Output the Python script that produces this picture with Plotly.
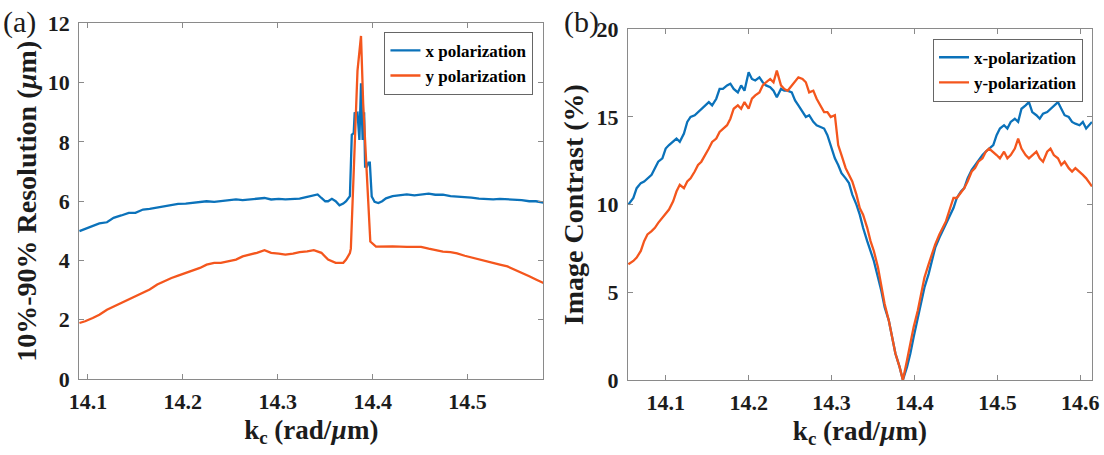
import plotly.graph_objects as go

# ---------- panel (a): 10%-90% resolution vs kc ----------
kc_a_x = [14.091, 14.097, 14.105, 14.112, 14.120, 14.127, 14.135, 14.143, 14.150, 14.158,
          14.165, 14.173, 14.180, 14.188, 14.195, 14.203, 14.210, 14.218, 14.225, 14.233,
          14.240, 14.248, 14.256, 14.263, 14.271, 14.278, 14.286, 14.293, 14.301, 14.308,
          14.316, 14.323, 14.331, 14.338, 14.342, 14.346, 14.350, 14.353, 14.357, 14.361,
          14.365, 14.369, 14.372, 14.376, 14.377, 14.378, 14.380, 14.381, 14.384, 14.386,
          14.3877, 14.3894, 14.391, 14.392, 14.394, 14.3955, 14.397, 14.399, 14.402, 14.406,
          14.410, 14.414, 14.421, 14.429, 14.436, 14.444, 14.451, 14.459, 14.466, 14.474,
          14.482, 14.489, 14.497, 14.504, 14.512, 14.519, 14.527, 14.534, 14.542, 14.550,
          14.557, 14.565, 14.572, 14.580]
res_x = [4.99, 5.07, 5.16, 5.25, 5.29, 5.44, 5.52, 5.61, 5.61, 5.72,
         5.74, 5.78, 5.83, 5.86, 5.91, 5.92, 5.95, 5.97, 6.00, 5.98,
         6.01, 6.02, 6.06, 6.04, 6.06, 6.08, 6.11, 6.06, 6.08, 6.06,
         6.08, 6.09, 6.15, 6.19, 6.23, 6.11, 6.00, 6.00, 6.08, 6.00,
         5.86, 5.92, 6.00, 6.17, 7.00, 8.24, 8.30, 8.97, 8.99, 8.07,
         9.98, 8.07, 9.00, 7.17, 7.17, 7.30, 7.30, 6.16, 5.98, 5.94,
         6.00, 6.10, 6.17, 6.20, 6.23, 6.20, 6.22, 6.26, 6.22, 6.22,
         6.17, 6.16, 6.14, 6.12, 6.09, 6.08, 6.06, 6.08, 6.07, 6.05,
         6.04, 6.00, 6.00, 5.95]

kc_a_y = [14.091, 14.097, 14.105, 14.112, 14.120, 14.127, 14.135, 14.143, 14.150, 14.158,
          14.165, 14.173, 14.180, 14.188, 14.195, 14.203, 14.210, 14.218, 14.225, 14.233,
          14.240, 14.248, 14.256, 14.263, 14.271, 14.278, 14.286, 14.293, 14.301, 14.308,
          14.316, 14.323, 14.331, 14.338, 14.346, 14.350, 14.353, 14.361, 14.369, 14.372,
          14.376, 14.377, 14.381, 14.384, 14.3877, 14.390, 14.3936, 14.3964, 14.3975, 14.4035,
          14.410, 14.421, 14.436, 14.444, 14.451, 14.459, 14.466, 14.474, 14.482, 14.489,
          14.497, 14.504, 14.512, 14.519, 14.527, 14.534, 14.542, 14.550, 14.557, 14.565,
          14.572, 14.580]
res_y = [1.89, 1.95, 2.06, 2.17, 2.34, 2.45, 2.57, 2.68, 2.79, 2.93,
         3.02, 3.19, 3.30, 3.41, 3.49, 3.58, 3.67, 3.75, 3.86, 3.92,
         3.92, 3.98, 4.03, 4.14, 4.20, 4.26, 4.35, 4.26, 4.23, 4.20,
         4.23, 4.28, 4.31, 4.35, 4.26, 4.14, 4.03, 3.92, 3.92, 4.03,
         4.25, 4.40, 8.10, 10.40, 11.58, 9.30, 7.06, 4.93, 4.64, 4.47,
         4.48, 4.48, 4.46, 4.47, 4.46, 4.40, 4.36, 4.30, 4.28, 4.24,
         4.16, 4.10, 4.03, 3.98, 3.92, 3.86, 3.80, 3.69, 3.60, 3.47,
         3.36, 3.24]

# ---------- panel (b): image contrast vs kc ----------
kc_b = [14.055, 14.061, 14.065, 14.070, 14.074, 14.078, 14.083, 14.087, 14.091, 14.096,
        14.100, 14.104, 14.109, 14.113, 14.117, 14.122, 14.126, 14.130, 14.135, 14.139,
        14.143, 14.148, 14.152, 14.156, 14.161, 14.165, 14.169, 14.174, 14.178, 14.182,
        14.187, 14.191, 14.195, 14.200, 14.204, 14.208, 14.213, 14.217, 14.221, 14.226,
        14.230, 14.234, 14.239, 14.243, 14.247, 14.252, 14.256, 14.260, 14.265, 14.269,
        14.273, 14.278, 14.282, 14.286, 14.291, 14.295, 14.299, 14.304, 14.308, 14.312,
        14.317, 14.321, 14.325, 14.330, 14.334, 14.338, 14.343, 14.347, 14.351, 14.356,
        14.360, 14.364, 14.369, 14.373, 14.377, 14.382, 14.386, 14.391, 14.395, 14.399,
        14.404, 14.408, 14.412, 14.417, 14.421, 14.425, 14.430, 14.434, 14.438, 14.443,
        14.447, 14.451, 14.456, 14.460, 14.464, 14.469, 14.473, 14.477, 14.482, 14.486,
        14.490, 14.495, 14.499, 14.503, 14.508, 14.512, 14.516, 14.521, 14.525, 14.529,
        14.534, 14.538, 14.542, 14.547, 14.551, 14.555, 14.560, 14.564, 14.568, 14.573,
        14.577, 14.581, 14.586, 14.590, 14.594, 14.599, 14.603, 14.607, 14.614]
contrast_x = [10.00, 10.38, 10.94, 11.23, 11.32, 11.50, 11.70, 12.08, 12.45, 12.64,
              13.20, 13.40, 13.58, 13.77, 13.58, 14.06, 14.72, 15.00, 15.10, 15.28,
              15.47, 15.66, 15.85, 15.66, 16.04, 16.60, 16.60, 16.80, 16.90, 16.60,
              16.40, 16.80, 16.50, 17.55, 17.17, 17.08, 17.26, 16.98, 16.80, 16.70,
              16.50, 16.13, 16.60, 16.50, 16.50, 16.40, 15.94, 15.66, 15.28, 15.00,
              15.10, 14.72, 14.53, 14.43, 14.34, 13.96, 13.40, 12.64, 12.26, 11.80,
              11.50, 11.23, 10.57, 10.00, 9.43, 8.68, 7.92, 7.36, 6.79, 5.85,
              5.09, 4.15, 3.40, 2.45, 1.51, 0.75, 0.00, 0.75, 1.51, 2.45,
              3.58, 4.53, 5.28, 6.04, 6.79, 7.55, 8.11, 8.49, 8.87, 9.43,
              9.81, 10.38, 10.75, 10.94, 11.50, 11.98, 12.26, 12.55, 12.83, 13.02,
              13.20, 13.40, 13.96, 14.34, 14.53, 14.34, 14.72, 14.90, 14.72, 15.47,
              15.66, 15.85, 15.28, 15.10, 14.90, 15.19, 15.28, 15.47, 15.66, 15.85,
              15.47, 15.10, 15.00, 14.72, 14.62, 14.53, 14.72, 14.34, 14.72]
contrast_y = [6.60, 6.79, 6.98, 7.36, 7.92, 8.30, 8.49, 8.68, 8.96, 9.25,
              9.43, 9.72, 10.19, 10.75, 11.13, 10.94, 11.32, 11.50, 11.89, 12.26,
              12.45, 12.83, 13.20, 13.58, 13.77, 14.15, 14.34, 14.53, 14.90, 15.47,
              15.66, 15.47, 15.85, 15.47, 16.04, 16.23, 16.40, 16.80, 16.98, 17.17,
              16.98, 17.64, 16.80, 16.60, 16.50, 16.80, 17.08, 17.26, 17.17, 16.98,
              16.40, 16.50, 16.04, 15.66, 15.28, 15.28, 15.00, 15.10, 13.40, 12.83,
              12.08, 11.70, 11.32, 10.57, 9.81, 9.43, 8.68, 7.92, 7.36, 6.42,
              5.47, 4.34, 3.40, 2.45, 1.51, 0.75, 0.00, 1.13, 2.08, 3.02,
              3.96, 4.90, 5.85, 6.60, 7.17, 7.74, 8.30, 8.68, 9.06, 9.81,
              10.38, 10.38, 10.66, 10.94, 11.32, 11.89, 12.08, 12.45, 12.64, 13.02,
              13.20, 13.02, 12.83, 12.64, 13.02, 12.64, 12.83, 13.20, 13.77, 13.20,
              12.83, 12.64, 12.83, 13.02, 12.64, 12.45, 13.02, 13.20, 12.83, 12.64,
              12.26, 12.45, 12.08, 11.89, 12.08, 11.89, 11.70, 11.50, 11.04]

x_ticks_a = [14.1, 14.2, 14.3, 14.4, 14.5]
x_ticks_b = [14.1, 14.2, 14.3, 14.4, 14.5, 14.6]

BLUE = "#0B72BA"
ORANGE = "#F4561D"
SERIF = "Liberation Serif"
TXT = "#1c1c1c"
FRAME = "#8a8a8a"

fig = go.Figure()
fig.add_trace(go.Scatter(x=kc_a_x, y=res_x, mode="lines", name="x polarization",
                         line=dict(color=BLUE, width=2.3), xaxis="x", yaxis="y", legend="legend"))
fig.add_trace(go.Scatter(x=kc_a_y, y=res_y, mode="lines", name="y polarization",
                         line=dict(color=ORANGE, width=2.3), xaxis="x", yaxis="y", legend="legend"))
fig.add_trace(go.Scatter(x=kc_b, y=contrast_x, mode="lines", name="x-polarization",
                         line=dict(color=BLUE, width=2.3), xaxis="x2", yaxis="y2", legend="legend2"))
fig.add_trace(go.Scatter(x=kc_b, y=contrast_y, mode="lines", name="y-polarization",
                         line=dict(color=ORANGE, width=2.3), xaxis="x2", yaxis="y2", legend="legend2"))

tickfont = dict(family=SERIF, size=22, color=TXT, weight="bold")
xtitlefont = dict(family=SERIF, size=27, color=TXT, weight="bold")
ytitlefont = dict(family=SERIF, size=28, color=TXT, weight="bold")
axis_common = dict(showgrid=False, zeroline=False, showline=True, linecolor=FRAME, linewidth=1,
                   mirror="ticks", ticks="inside", ticklen=5, tickcolor=FRAME, tickwidth=1,
                   tickfont=tickfont, automargin=False)
xtitle = "k<sub>c</sub> (rad/<i>µ</i>m)"
legend_font = dict(family=SERIF, size=17, color="black", weight="bold")

fig.update_layout(
    width=1104, height=455,
    margin=dict(l=0, r=0, t=0, b=0, pad=0, autoexpand=False),
    paper_bgcolor="white", plot_bgcolor="white",
    showlegend=True,
    xaxis=dict(domain=[0.0716, 0.4923], range=[14.0906, 14.580], tickvals=x_ticks_a,
               ticktext=[f"{v:.1f}" for v in x_ticks_a], anchor="y",
               title=dict(text=xtitle, font=xtitlefont, standoff=6), ticklabelstandoff=3,
               **axis_common),
    yaxis=dict(domain=[0.167, 0.9484], range=[0, 12], dtick=2, anchor="x",
               title=dict(text="10%-90% Resolution (<i>µ</i>m)", font=ytitlefont, standoff=2),
               ticklabelstandoff=4, **axis_common),
    xaxis2=dict(domain=[0.5688, 0.9891], range=[14.0545, 14.614], tickvals=x_ticks_b,
                ticktext=[f"{v:.1f}" for v in x_ticks_b], anchor="y2",
                title=dict(text=xtitle, font=xtitlefont, standoff=6), ticklabelstandoff=3,
                **axis_common),
    yaxis2=dict(domain=[0.1648, 0.9356], range=[0, 20], dtick=5, anchor="x2",
                title=dict(text="Image Contrast (%)", font=ytitlefont, standoff=4),
                ticklabelstandoff=4, **axis_common),
    legend=dict(x=0.4832, y=0.93, xanchor="right", yanchor="top",
                bgcolor="white", bordercolor="#666", borderwidth=1,
                font=legend_font, tracegroupgap=0, itemwidth=30),
    legend2=dict(x=0.981, y=0.915, xanchor="right", yanchor="top",
                 bgcolor="white", bordercolor="#666", borderwidth=1,
                 font=legend_font, tracegroupgap=0, itemwidth=30),
    annotations=[
        dict(text="(a)", x=0.001, y=0.951, xref="paper", yref="paper", xanchor="left",
             yanchor="middle", showarrow=False, font=dict(family=SERIF, size=30, color=TXT)),
        dict(text="(b)", x=0.509, y=0.951, xref="paper", yref="paper", xanchor="left",
             yanchor="middle", showarrow=False, font=dict(family=SERIF, size=30, color=TXT)),
    ],
)

fig.write_html("out.html")
